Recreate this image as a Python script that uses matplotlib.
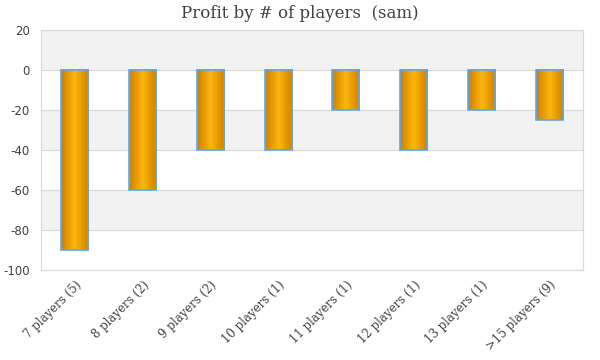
import matplotlib
matplotlib.use("Agg")
import matplotlib.pyplot as plt
import numpy as np
from matplotlib.colors import LinearSegmentedColormap

categories = ["7 players (5)", "8 players (2)", "9 players (2)", "10 players (1)",
              "11 players (1)", "12 players (1)", "13 players (1)", ">15 players (9)"]
profit = [-90, -60, -40, -40, -20, -40, -20, -25]
yticks = [20, 0, -20, -40, -60, -80, -100]

fig = plt.figure(figsize=(6, 3.6), dpi=100)
ax = fig.add_axes([0.068, 0.25, 0.904, 0.6667])

# alternating bands
for i, (hi, lo) in enumerate(zip(yticks[:-1], yticks[1:])):
    if i % 2 == 0:
        ax.axhspan(lo, hi, color="#f2f2f2", zorder=0, lw=0)
for t in yticks:
    ax.axhline(t, color="#d9d9d9", lw=0.8, zorder=1)

x = np.arange(len(categories))
bars = ax.bar(x, profit, width=0.4, facecolor="none", edgecolor="#5fa8ee", lw=1.2, zorder=4)

cmap = LinearSegmentedColormap.from_list("g", ["#c98200", "#e69a00", "#fbb712", "#e69a00", "#c98200"])
grad = np.linspace(0, 1, 256).reshape(1, -1)
for b in bars:
    x0, y0 = b.get_x(), b.get_y()
    w, h = b.get_width(), b.get_height()
    ax.imshow(grad, extent=[x0, x0 + w, min(y0, y0 + h), max(y0, y0 + h)],
              aspect="auto", cmap=cmap, zorder=3, interpolation="bilinear")
ax.set_xlim(-0.5, len(categories) - 0.5)
ax.set_ylim(-100, 20)

ax.set_yticks(yticks)
ax.set_yticklabels([str(t) for t in yticks], fontsize=8.5, color="#404040", family="DejaVu Sans")
ax.set_xticks(x)
ax.set_xticklabels(categories, rotation=45, ha="right", rotation_mode="anchor",
                   fontsize=8.5, color="#404040", family="DejaVu Serif")
ax.tick_params(axis="x", length=0, pad=6)
ax.tick_params(axis="y", length=0, pad=8)
for s in ax.spines.values():
    s.set_color("#d9d9d9")
    s.set_linewidth(0.8)

fig.suptitle("Profit by # of players  (sam)", y=0.985, fontsize=12, color="#404040",
             family="DejaVu Serif")
fig.savefig("out.png", dpi=100)
